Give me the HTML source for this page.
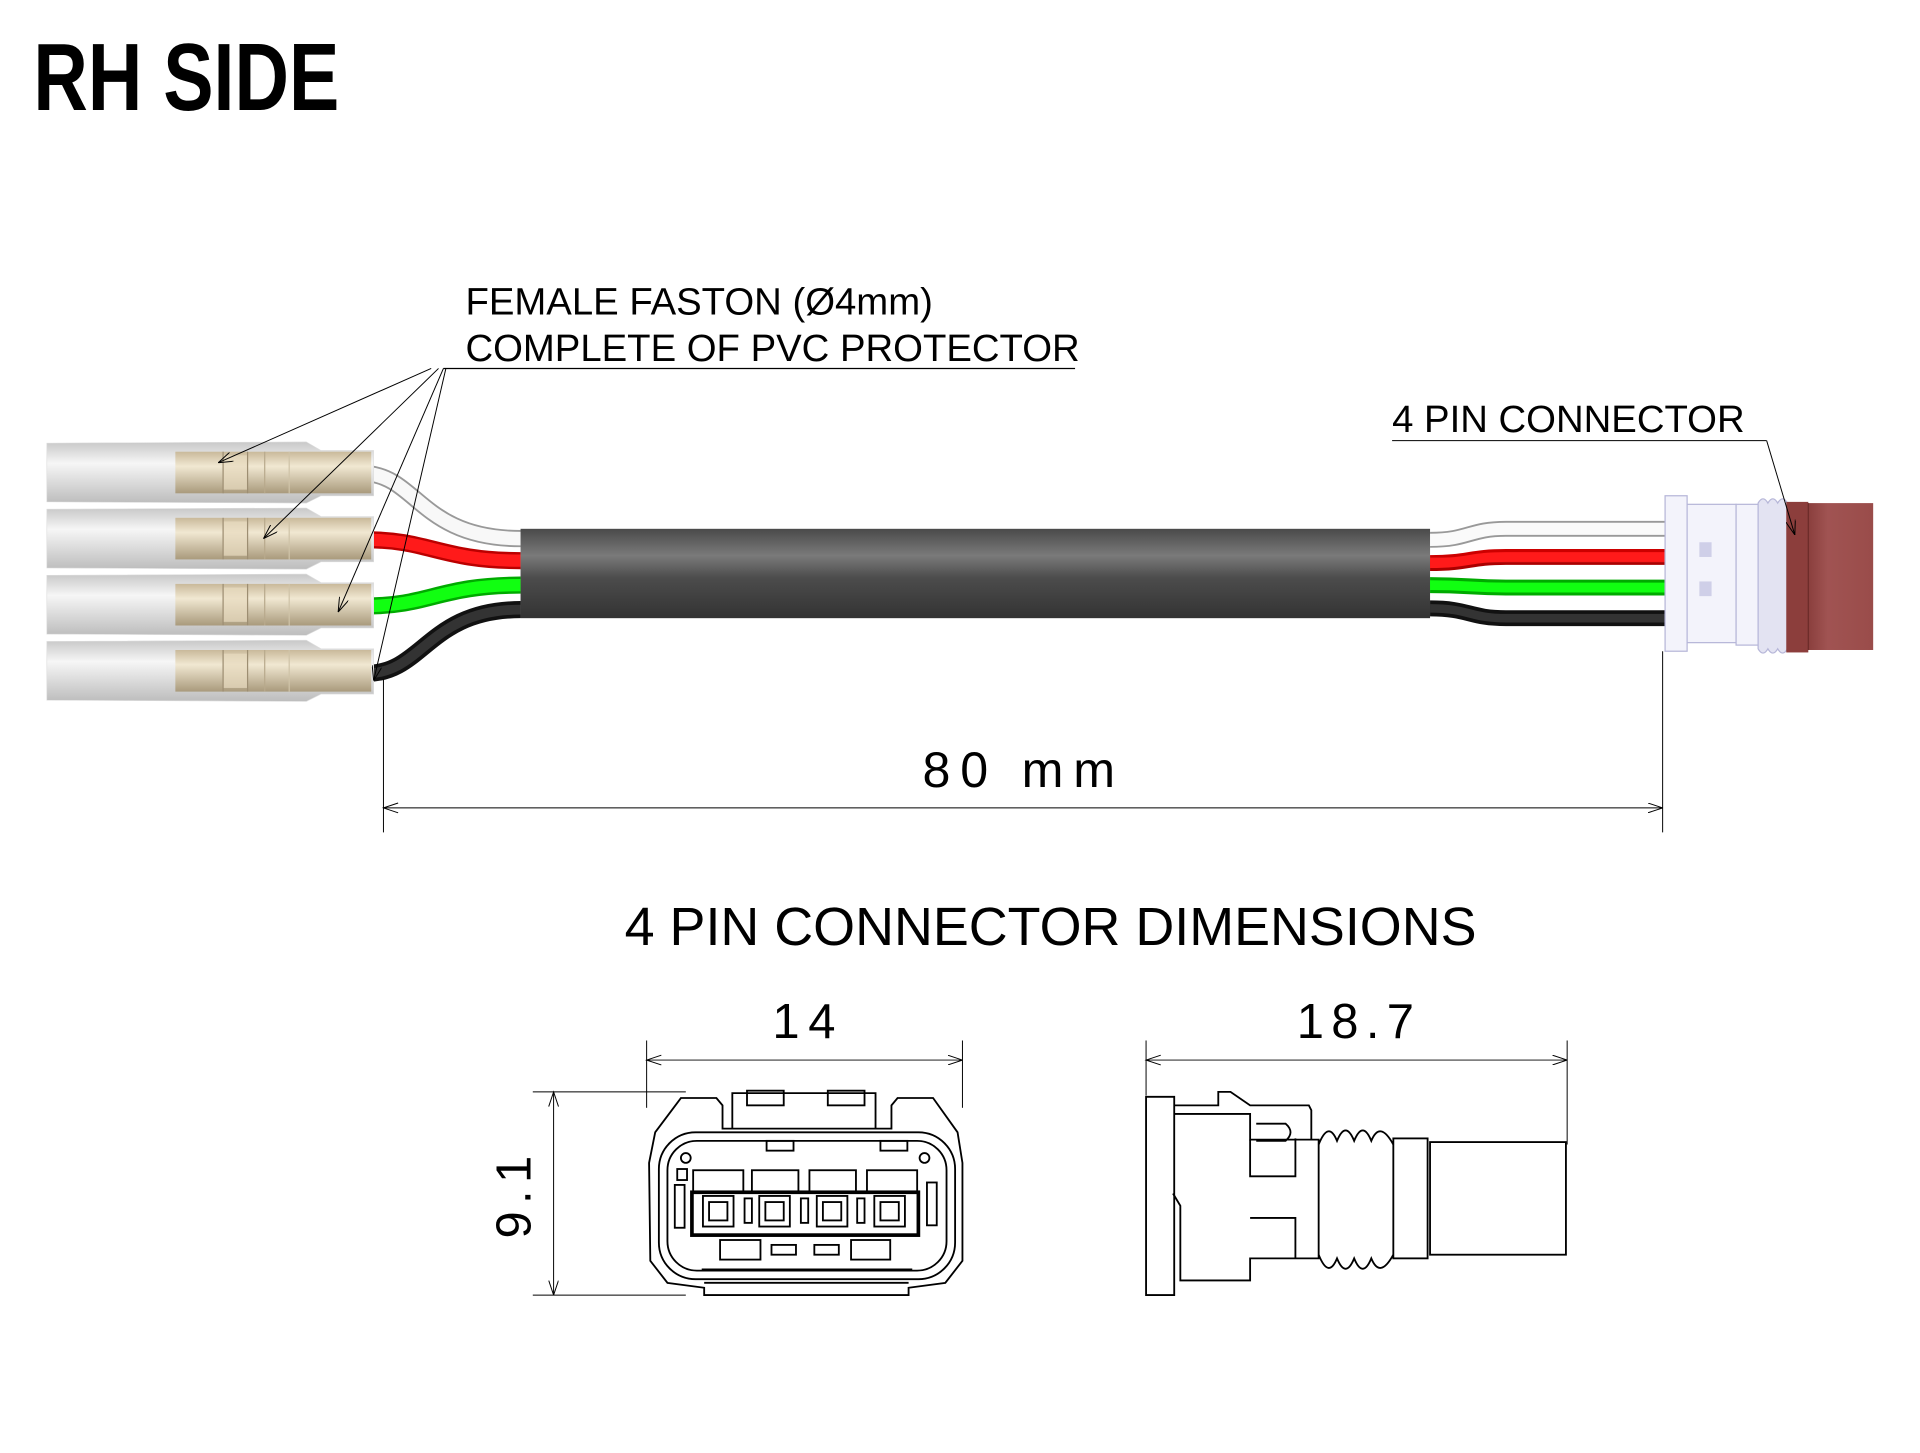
<!DOCTYPE html>
<html><head><meta charset="utf-8"><style>
html,body{margin:0;padding:0;background:#fff;}
svg{display:block;}
text{font-family:"Liberation Sans",sans-serif;fill:#000;}
</style></head><body>
<svg width="1920" height="1453" viewBox="0 0 1568 1187" xmlns="http://www.w3.org/2000/svg">
<defs>
<linearGradient id="sleeve" x1="0" y1="0" x2="0" y2="1">
<stop offset="0" stop-color="#c8c8c8"/><stop offset="0.35" stop-color="#f6f6f6"/><stop offset="1" stop-color="#bdbdbd"/></linearGradient>
<linearGradient id="brass" x1="0" y1="0" x2="0" y2="1">
<stop offset="0" stop-color="#c9b99a"/><stop offset="0.35" stop-color="#f1e8d2"/><stop offset="1" stop-color="#a99a7c"/></linearGradient>
<linearGradient id="sheath" x1="0" y1="0" x2="0" y2="1">
<stop offset="0" stop-color="#4a4a4a"/><stop offset="0.3" stop-color="#7a7a7a"/><stop offset="0.55" stop-color="#4c4c4c"/><stop offset="1" stop-color="#333"/></linearGradient>
<linearGradient id="red" x1="0" y1="0" x2="0" y2="1">
<stop offset="0" stop-color="#c00"/><stop offset="0.4" stop-color="#ff4040"/><stop offset="1" stop-color="#a00"/></linearGradient>
<linearGradient id="conn" x1="0" y1="0" x2="1" y2="0">
<stop offset="0" stop-color="#8a3f3d"/><stop offset="0.3" stop-color="#a05352"/><stop offset="1" stop-color="#9a4c4a"/></linearGradient>
<marker id="ah" markerWidth="12" markerHeight="8" refX="12" refY="4" orient="auto" markerUnits="userSpaceOnUse">
<path d="M0,0 L12,4 L0,8" fill="none" stroke="#000" stroke-width="0.8"/></marker>
</defs>

<text x="27" y="90" font-size="78" font-weight="bold" transform="translate(27 0) scale(0.79 1) translate(-27 0)">RH SIDE</text>

<text x="380" y="257" font-size="31.3">FEMALE FASTON (Ø4mm)</text>
<text x="380" y="295" font-size="31.3">COMPLETE OF PVC PROTECTOR</text>
<line x1="362" y1="301" x2="878" y2="301" stroke="#000" stroke-width="1"/>

<!-- wires left -->
<g fill="none" stroke-linecap="butt">
<path d="M300,387 C340,390 345,440 425,440" stroke="#999" stroke-width="14"/>
<path d="M300,387 C340,390 345,440 425,440" stroke="#f8f8f8" stroke-width="11"/>
<path d="M300,441 C350,441 360,458 425,458" stroke="#b00" stroke-width="14"/>
<path d="M300,441 C350,441 360,458 425,458" stroke="#ff1a1a" stroke-width="10"/>
<path d="M300,495 C350,495 360,478 425,478" stroke="#0a0" stroke-width="14"/>
<path d="M300,495 C350,495 360,478 425,478" stroke="#1f1" stroke-width="10"/>
<path d="M300,550 C345,550 350,498 425,498" stroke="#111" stroke-width="14"/>
<path d="M300,550 C345,550 350,498 425,498" stroke="#333" stroke-width="8"/>
</g>

<!-- fastons -->
<g id="f">
<path d="M38,362 L250,361 L262,368 L305,368 L305,405 L262,405 L250,411 L38,410 Z" fill="url(#sleeve)" stroke="#ddd" stroke-width="0.5"/>
<rect x="143" y="369" width="160" height="34" fill="url(#brass)"/>
<rect x="182" y="372" width="20" height="28" fill="#e8dcc0" opacity="0.7"/>
<line x1="182" y1="369" x2="182" y2="403" stroke="#9d8e72" stroke-width="1"/>
<line x1="202" y1="369" x2="202" y2="403" stroke="#9d8e72" stroke-width="1"/>
<line x1="216" y1="369" x2="216" y2="403" stroke="#b8a98c" stroke-width="1"/>
<line x1="236" y1="369" x2="236" y2="403" stroke="#cfc3a8" stroke-width="1"/>
</g>
<use href="#f" y="54"/>
<use href="#f" y="108"/>
<use href="#f" y="162"/>

<g stroke="#000" stroke-width="0.8" fill="none" marker-end="url(#ah)">
<line x1="352" y1="301" x2="178" y2="378"/>
<line x1="358" y1="301" x2="215" y2="440"/>
<line x1="362" y1="301" x2="276" y2="500"/>
<line x1="364" y1="301" x2="305" y2="556"/>
</g>

<!-- sheath -->
<rect x="425" y="432" width="743" height="73" fill="url(#sheath)"/>

<!-- wires right -->
<g fill="none">
<path d="M1168,441 C1200,441 1200,432 1230,432 L1362,432" stroke="#999" stroke-width="13"/>
<path d="M1168,441 C1200,441 1200,432 1230,432 L1362,432" stroke="#fafafa" stroke-width="10"/>
<path d="M1168,460 C1200,460 1200,455 1230,455 L1362,455" stroke="url(#red)" stroke-width="13"/>
<path d="M1168,460 C1200,460 1200,455 1230,455 L1362,455" stroke="#ff1a1a" stroke-width="8"/>
<path d="M1168,478 C1200,478 1200,480 1230,480 L1362,480" stroke="#0a0" stroke-width="13"/>
<path d="M1168,478 C1200,478 1200,480 1230,480 L1362,480" stroke="#1f1" stroke-width="8"/>
<path d="M1168,497 C1200,497 1200,505 1230,505 L1362,505" stroke="#111" stroke-width="13"/>
<path d="M1168,497 C1200,497 1200,505 1230,505 L1362,505" stroke="#333" stroke-width="7"/>
</g>

<!-- 4 pin connector -->
<g stroke="#b6b6d8" stroke-width="1" fill="#f3f3fb">
<rect x="1360" y="405" width="18" height="127"/>
<rect x="1378" y="412" width="40" height="113"/>
<rect x="1418" y="412" width="20" height="115"/>
<path d="M1436,411 Q1440,404 1444,411 Q1448,404 1452,411 Q1456,404 1460,411 L1460,530 Q1456,537 1452,530 Q1448,537 1444,530 Q1440,537 1436,530 Z" fill="#e3e3f2"/>
<rect x="1388" y="443" width="10" height="12" fill="#cfcfe8" stroke="none"/>
<rect x="1388" y="475" width="10" height="12" fill="#cfcfe8" stroke="none"/>
</g>
<rect x="1459" y="410" width="18" height="123" fill="#8c3e3c"/>
<rect x="1477" y="411" width="53" height="120" fill="url(#conn)"/>
<line x1="1477" y1="411" x2="1477" y2="531" stroke="#6b2a28" stroke-width="1"/>

<text x="1137" y="353" font-size="31.3">4 PIN CONNECTOR</text>
<line x1="1137" y1="360" x2="1443" y2="360" stroke="#000" stroke-width="0.8"/>
<line x1="1443" y1="360" x2="1466" y2="437" stroke="#000" stroke-width="0.8" marker-end="url(#ah)"/>

<!-- 80mm dimension -->
<g stroke="#000" stroke-width="0.8" fill="none">
<line x1="313" y1="555" x2="313" y2="680"/>
<line x1="1358" y1="532" x2="1358" y2="680"/>
<line x1="313" y1="660" x2="1358" y2="660" marker-end="url(#ah)"/>
<path d="M325,656 L313,660 L325,664"/>
</g>
<text x="836" y="643" font-size="41" text-anchor="middle" letter-spacing="8">80 mm</text>

<text x="858" y="772" font-size="44" text-anchor="middle">4 PIN CONNECTOR DIMENSIONS</text>

<!-- front view dims -->
<text x="660" y="848" font-size="40" text-anchor="middle" letter-spacing="7">14</text>
<g stroke="#000" stroke-width="0.8" fill="none">
<line x1="528" y1="850" x2="528" y2="905"/>
<line x1="786" y1="850" x2="786" y2="905"/>
<line x1="528" y1="866" x2="786" y2="866" marker-end="url(#ah)"/>
<path d="M540,862 L528,866 L540,870"/>
<line x1="435" y1="892" x2="560" y2="892"/>
<line x1="435" y1="1058" x2="560" y2="1058"/>
<line x1="452" y1="892" x2="452" y2="1058" marker-end="url(#ah)"/>
<path d="M448,904 L452,892 L456,904"/>
</g>
<text x="0" y="0" font-size="40" text-anchor="middle" letter-spacing="6" transform="translate(433 975) rotate(-90)">9.1</text>

<!-- front view connector -->
<g stroke="#000" stroke-width="1.5" fill="none">
<path d="M556,897 L585,897 L590,903 L590,922 L728,922 L728,903 L733,897 L762,897 L782,925 L786,950 L786,1030 L772,1048 L742,1052 L742,1058 L575,1058 L575,1052 L545,1048 L531,1030 L530,950 L535,925 Z"/>
<path d="M598,922 L598,893 L715,893 L715,922"/>
<rect x="610" y="891" width="30" height="12"/>
<rect x="676" y="891" width="30" height="12"/>
<rect x="538" y="925" width="242" height="120" rx="30"/>
<rect x="545" y="932" width="228" height="106" rx="24"/>
<rect x="626" y="932" width="22" height="8"/>
<rect x="719" y="932" width="22" height="8"/>
<circle cx="560" cy="946" r="4"/>
<circle cx="755" cy="946" r="4"/>
<rect x="553" y="955" width="8" height="9"/>
<rect x="551" y="968" width="8" height="35"/>
<rect x="757" y="966" width="8" height="35"/>
<rect x="566" y="956" width="41" height="18"/>
<rect x="614" y="956" width="38" height="18"/>
<rect x="661" y="956" width="38" height="18"/>
<rect x="708" y="956" width="41" height="18"/>
<rect x="565" y="974" width="185" height="35" stroke-width="3"/>
<rect x="574" y="977" width="25" height="25"/><rect x="579" y="982" width="15" height="15"/>
<rect x="620" y="977" width="25" height="25"/><rect x="625" y="982" width="15" height="15"/>
<rect x="667" y="977" width="25" height="25"/><rect x="672" y="982" width="15" height="15"/>
<rect x="714" y="977" width="25" height="25"/><rect x="719" y="982" width="15" height="15"/>
<rect x="608" y="979" width="6" height="20"/>
<rect x="654" y="979" width="6" height="20"/>
<rect x="700" y="979" width="6" height="20"/>
<rect x="588" y="1013" width="33" height="16"/>
<rect x="695" y="1013" width="32" height="16"/>
<rect x="630" y="1017" width="20" height="8"/>
<rect x="665" y="1017" width="20" height="8"/>
<line x1="573" y1="1037" x2="745" y2="1037"/>
<line x1="575" y1="1048" x2="742" y2="1048"/>
</g>

<!-- side view dims -->
<text x="1110" y="848" font-size="40" text-anchor="middle" letter-spacing="6">18.7</text>
<g stroke="#000" stroke-width="0.8" fill="none">
<line x1="936" y1="850" x2="936" y2="895"/>
<line x1="1280" y1="850" x2="1280" y2="935"/>
<line x1="936" y1="866" x2="1280" y2="866" marker-end="url(#ah)"/>
<path d="M948,862 L936,866 L948,870"/>
</g>

<!-- side view connector -->
<g stroke="#000" stroke-width="1.5" fill="none">
<path d="M936,896 L959,896 L959,1058 L936,1058 Z"/>
<path d="M959,903 L995,903 L995,892 L1005,892 L1021,903 L1069,903 L1071,907 L1071,931"/>
<path d="M959,910 L1021,910 L1021,931 L1077,931 L1077,1028 L1021,1028 L1021,1046 L964,1046 L964,985 L958,975"/>
<path d="M1021,931 L1021,961 L1058,961 L1058,930"/>
<path d="M1021,995 L1058,995 L1058,1028"/>
<path d="M1026,918 L1050,918 Q1058,925 1050,932 L1026,932"/>
<path d="M1077,935 Q1085,915 1092,932 Q1099,915 1106,932 Q1113,915 1120,932 Q1127,915 1138,935"/>
<path d="M1077,1025 Q1085,1045 1092,1028 Q1099,1045 1106,1028 Q1113,1045 1120,1028 Q1127,1045 1138,1025"/>
<rect x="1138" y="930" width="28" height="98"/>
<rect x="1168" y="933" width="111" height="92"/>
</g>
</svg>
</body></html>
